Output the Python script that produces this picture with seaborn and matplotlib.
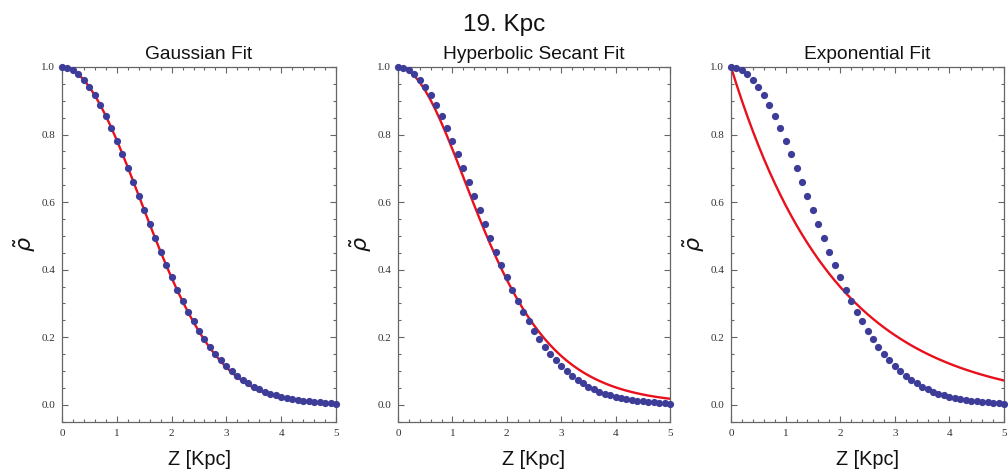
import numpy as np
import pandas as pd
import matplotlib
matplotlib.use("Agg")
import matplotlib.pyplot as plt
from matplotlib.ticker import MultipleLocator
import seaborn as sns

# ---- data ----
z = [round(0.1 * k, 1) for k in range(51)]

rho_data = [1.000, 0.998, 0.990, 0.978, 0.962, 0.940, 0.916, 0.887, 0.855, 0.819,
            0.781, 0.742, 0.701, 0.659, 0.618, 0.576, 0.534, 0.493, 0.453, 0.414,
            0.377, 0.341, 0.307, 0.276, 0.247, 0.219, 0.194, 0.171, 0.151, 0.133,
            0.116, 0.100, 0.086, 0.074, 0.063, 0.054, 0.046, 0.039, 0.033, 0.028,
            0.024, 0.020, 0.017, 0.014, 0.012, 0.010, 0.008, 0.007, 0.005, 0.004,
            0.003]

gauss_fit = [1.0000, 0.9976, 0.9903, 0.9782, 0.9616, 0.9407, 0.9158, 0.8871, 0.8552, 0.8203,
             0.7831, 0.7439, 0.7032, 0.6615, 0.6193, 0.5769, 0.5348, 0.4933, 0.4529, 0.4137,
             0.3761, 0.3402, 0.3063, 0.2743, 0.2446, 0.2170, 0.1915, 0.1682, 0.1471, 0.1280,
             0.1108, 0.0954, 0.0818, 0.0698, 0.0592, 0.0500, 0.0421, 0.0352, 0.0293, 0.0243,
             0.0200, 0.0164, 0.0134, 0.0109, 0.0088, 0.0071, 0.0057, 0.0045, 0.0036, 0.0028,
             0.0022]

sech_fit = [1.0000, 0.9971, 0.9884, 0.9742, 0.9547, 0.9304, 0.9018, 0.8695, 0.8341, 0.7962,
            0.7566, 0.7157, 0.6742, 0.6326, 0.5914, 0.5510, 0.5117, 0.4739, 0.4374, 0.4029,
            0.3702, 0.3394, 0.3106, 0.2836, 0.2586, 0.2355, 0.2141, 0.1944, 0.1763, 0.1598,
            0.1446, 0.1308, 0.1182, 0.1068, 0.0964, 0.0870, 0.0784, 0.0707, 0.0637, 0.0573,
            0.0516, 0.0464, 0.0418, 0.0376, 0.0338, 0.0304, 0.0273, 0.0246, 0.0221, 0.0198,
            0.0178]

exp_fit = [1.0000, 0.9487, 0.9001, 0.8539, 0.8101, 0.7686, 0.7292, 0.6918, 0.6563, 0.6227,
           0.5907, 0.5604, 0.5317, 0.5044, 0.4786, 0.4540, 0.4307, 0.4087, 0.3877, 0.3678,
           0.3490, 0.3311, 0.3141, 0.2980, 0.2827, 0.2682, 0.2545, 0.2414, 0.2290, 0.2173,
           0.2062, 0.1956, 0.1856, 0.1760, 0.1670, 0.1584, 0.1503, 0.1426, 0.1353, 0.1284,
           0.1218, 0.1155, 0.1096, 0.1040, 0.0987, 0.0936, 0.0888, 0.0842, 0.0799, 0.0758,
           0.0719]

panel_titles = ["Gaussian Fit", "Hyperbolic Secant Fit", "Exponential Fit"]
suptitle = "19. Kpc"
xlabel = "Z [Kpc]"
ylabel = r"$\tilde{\rho}$"
xticks = [0, 1, 2, 3, 4, 5]
yticks = [0.0, 0.2, 0.4, 0.6, 0.8, 1.0]

# ---- styling ----
sns.set_theme(style="ticks")
plt.rcParams["font.family"] = ["Liberation Sans", "DejaVu Sans"]

dot_color = "#3d3d99"
line_color = "#e8101c"
frame_color = "#666666"

fig = plt.figure(figsize=(10.08, 4.75), dpi=100)
fig.patch.set_facecolor("white")

W, H = 1008, 475
boxes = [(62, 336), (398, 670), (731, 1004)]
top_px, bot_px = 67, 422

df = pd.DataFrame({"z": z, "rho": rho_data, "gauss": gauss_fit,
                   "sech": sech_fit, "exp": exp_fit})
fits = ["gauss", "sech", "exp"]

for i, (x0, x1) in enumerate(boxes):
    ax = fig.add_axes([x0 / W, (H - bot_px) / H, (x1 - x0) / W, (bot_px - top_px) / H])
    ax.set_facecolor("white")
    sns.lineplot(data=df, x="z", y=fits[i], ax=ax, color=line_color, linewidth=1.7,
                 zorder=2, sort=True, estimator=None)
    sns.scatterplot(data=df, x="z", y="rho", ax=ax, color=dot_color, s=27,
                    linewidth=0, zorder=3, clip_on=False)
    ax.set_xlim(0, 5)
    ax.set_ylim(-0.051, 1.0)
    ax.set_xticks(xticks)
    ax.set_xticklabels([str(t) for t in xticks])
    ax.set_yticks(yticks)
    ax.set_yticklabels([f"{t:.1f}" for t in yticks])
    ax.xaxis.set_minor_locator(MultipleLocator(0.2))
    ax.yaxis.set_minor_locator(MultipleLocator(0.05))
    ax.tick_params(which="both", direction="in", top=True, right=True,
                   color=frame_color, width=0.8)
    ax.tick_params(which="major", length=4.5, labelsize=8, labelcolor="#333333", pad=5)
    ax.tick_params(which="minor", length=2.5)
    for lab in ax.get_xticklabels() + ax.get_yticklabels():
        lab.set_family(["Liberation Serif", "DejaVu Serif"])
    for sp in ax.spines.values():
        sp.set_color(frame_color)
        sp.set_linewidth(0.9)
    ax.set_xlabel(xlabel, fontsize=14.3, labelpad=9, color="#111111")
    ax.set_ylabel(ylabel, fontsize=16, labelpad=2, color="#111111")
    ax.set_title(panel_titles[i], fontsize=13.8, pad=6, color="#111111")
    if ax.get_legend() is not None:
        ax.get_legend().remove()

fig.text(0.5, 1 - 25 / H, suptitle, ha="center", va="center", fontsize=17.5, color="#111111")

fig.savefig("out.png", dpi=100, facecolor="white")
